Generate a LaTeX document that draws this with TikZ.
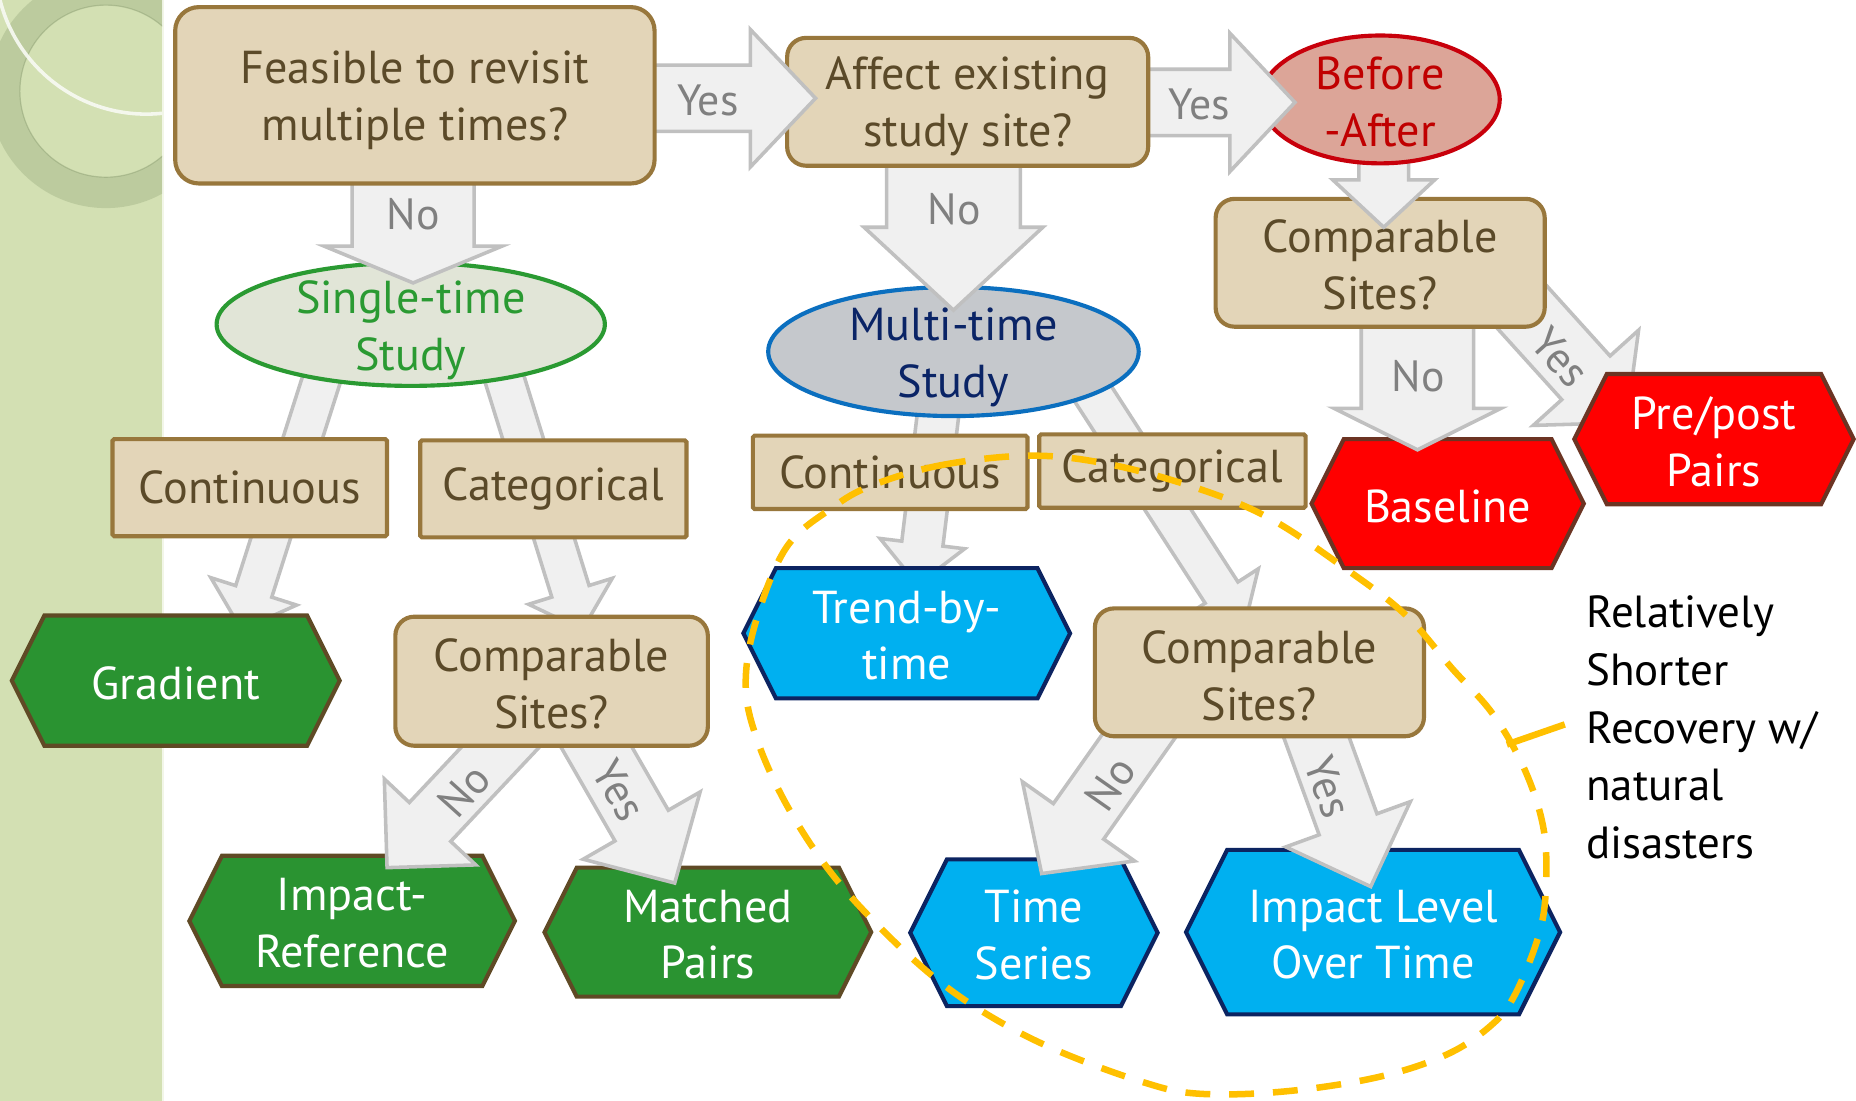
\documentclass[tikz,border=0pt]{standalone}
\usepackage{fontspec}
\setmainfont{PT Sans}
\usetikzlibrary{calc,shapes.geometric}
\definecolor{tanfill}{HTML}{E3D5B8}
\definecolor{tanline}{HTML}{98773C}
\definecolor{tantext}{HTML}{5B4A29}
\definecolor{arrfill}{HTML}{F0F0F0}
\definecolor{arrline}{HTML}{C0C0C0}
\definecolor{lblgray}{HTML}{808080}
\definecolor{singlefill}{HTML}{E1E5D7}
\definecolor{singleline}{HTML}{2A9A32}
\definecolor{multifill}{HTML}{C5C8CC}
\definecolor{multiline}{HTML}{0B6FBF}
\definecolor{multitext}{HTML}{0A2466}
\definecolor{beforefill}{HTML}{DCA598}
\definecolor{beforeline}{HTML}{C8000B}
\definecolor{beforetext}{HTML}{C00000}
\definecolor{greenhex}{HTML}{2A9331}
\definecolor{greenhexline}{HTML}{5F4A25}
\definecolor{redhex}{HTML}{FF0000}
\definecolor{redhexline}{HTML}{6C3423}
\definecolor{bluehex}{HTML}{00B0F0}
\definecolor{bluehexline}{HTML}{0C2461}
\definecolor{dashcol}{HTML}{FFC000}
\definecolor{stripcol}{HTML}{D3E0B3}
\definecolor{ringcol}{HTML}{8A9C70}

\newcommand\barrow[5]{%
  \coordinate (bneck) at ($(#2)!#5pt!(#1)$);
  \draw[blockarrow] ($(#1)!#3pt!90:(#2)$) -- ($(bneck)!#3pt!90:(#2)$) -- ($(bneck)!#4pt!90:(#2)$) -- (#2) -- ($(bneck)!#4pt!-90:(#2)$) -- ($(bneck)!#3pt!-90:(#2)$) -- ($(#1)!#3pt!-90:(#2)$) -- cycle;}

\newcommand\hexa[7]{%
  \draw[#6] ({#2-#4},{#3}) -- ({#2-#4+0.5*#5},{#3-#5}) -- ({#2+#4-0.5*#5},{#3-#5}) -- ({#2+#4},{#3}) -- ({#2+#4-0.5*#5},{#3+#5}) -- ({#2-#4+0.5*#5},{#3+#5}) -- cycle;
  \node[hextext] (#1) at (#2,{#3+2}) {#7};}

\tikzset{
  blockarrow/.style={draw=arrline, fill=arrfill, line width=3pt, line join=miter},
  tanbox/.style={draw=tanline, fill=tanfill, line width=3.5pt, text=tantext, font=\fontsize{39}{47}\selectfont, align=center, inner sep=0pt, rounded corners=16pt},
  tanrect/.style={tanbox, rounded corners=1.5pt},
  boxtext/.style={text=tantext, font=\fontsize{39}{48}\selectfont, align=center, inner sep=0pt},
  hextext/.style={text=white, font=\fontsize{39}{48}\selectfont, align=center, inner sep=0pt},
  greenh/.style={fill=greenhex, draw=greenhexline, line width=3.5pt, line join=miter},
  redh/.style={fill=redhex, draw=redhexline, line width=3.5pt, line join=miter},
  blueh/.style={fill=bluehex, draw=bluehexline, line width=3.5pt, line join=miter},
  lbl/.style={text=lblgray, font=\fontsize{37}{44}\selectfont, inner sep=0pt},
  ovaltext/.style={font=\fontsize{39}{48}\selectfont, align=center, inner sep=0pt}
}

\begin{document}
\begin{tikzpicture}[x=1pt,y=-1pt]
\useasboundingbox (0,0) rectangle (1568,930);
\fill[white] (0,0) rectangle (1568,930);
% left strip
\fill[stripcol] (0,0) rectangle (137,930);
\draw[white!70!stripcol, line width=1.5pt] (137.5,0) -- (137.5,930);
\begin{scope}
  \clip (0,0) rectangle (137,930);
  \fill[ringcol, opacity=0.3, even odd rule] (89.5,77) circle (98.8) (89.5,77) circle (72.7);
  \draw[ringcol, opacity=0.45, line width=1pt] (89.5,77) circle (72.7);
  \draw[white!85!stripcol, line width=3pt, opacity=0.9] (123.6,-31) circle (127.4);
\end{scope}

% coordinates for connectors
\coordinate (a1s) at (349,140);   \coordinate (a1e) at (349,239);
\coordinate (a2s) at (540,83);    \coordinate (a2e) at (689,83);
\coordinate (a3s) at (955,86.5);  \coordinate (a3e) at (1094,86.5);
\coordinate (a4s) at (805.5,125); \coordinate (a4e) at (805.5,262);
\coordinate (a5s) at (1169,120);  \coordinate (a5e) at (1169,192);
\coordinate (a6s) at (1197.5,260);\coordinate (a6e) at (1197.5,380);
\coordinate (a7s) at (1280,253);  \coordinate (a7e) at (1374,357);
\coordinate (a8s) at (274,313);   \coordinate (a8e) at (204,532);
\coordinate (a9s) at (424,313);   \coordinate (a9e) at (492,532);
\coordinate (a10s) at (793,346);  \coordinate (a10e) at (775,494);
\coordinate (a11s) at (921,329);  \coordinate (a11e) at (1051,530);
\coordinate (a12s) at (452,600);  \coordinate (a12e) at (327,733);
\coordinate (a13s) at (486,600);  \coordinate (a13e) at (570,746);
\coordinate (a14s) at (981,595);  \coordinate (a14e) at (880,738);
\coordinate (a15s) at (1102,595); \coordinate (a15e) at (1158,749);

% arrows lying under the nodes
\barrow{a8s}{a8e}{16}{38}{34}
\barrow{a9s}{a9e}{16.5}{37}{34}
\barrow{a10s}{a10e}{17.5}{36}{35}
\barrow{a11s}{a11e}{16.5}{37}{35}
\barrow{a7s}{a7e}{27.5}{60}{51}

% hexagons
\hexa{gradient}{148.5}{575}{138.5}{55}{greenh}{Gradient}
\hexa{trend}{766}{535}{138}{55}{blueh}{Trend-by-\\time}
\hexa{baseline}{1223}{425.5}{115}{54.5}{redh}{Baseline}
\hexa{prepost}{1448}{371}{118}{55}{redh}{Pre/post\\Pairs}
\hexa{impref}{297.5}{778}{137.5}{55}{greenh}{Impact-\\Reference}
\hexa{matched}{598}{787.5}{138}{54.5}{greenh}{Matched\\Pairs}
\hexa{timeser}{873.5}{788}{104.5}{62}{blueh}{Time\\Series}
\hexa{implevel}{1160}{787.5}{158}{69.5}{blueh}{Impact Level\\Over Time}

% ovals
\node[ellipse, draw=singleline, fill=singlefill, line width=3.5pt, minimum width=328pt, minimum height=104pt, inner sep=0pt] (single) at (347,274) {};
\node[ovaltext, text=singleline] (singleT) at (347,279) {Single-time\\Study};
\node[ellipse, draw=multiline, fill=multifill, line width=3.5pt, minimum width=313pt, minimum height=109pt, inner sep=0pt] (multi) at (805.5,297) {};
\node[ovaltext, text=multitext] (multiT) at (805.5,302) {Multi-time\\Study};

% small rectangles
\node[tanrect, minimum width=232pt, minimum height=82pt] (contL) at (211,412) {Continuous};
\node[tanrect, minimum width=225pt, minimum height=82pt] (catL) at (467.5,413) {Categorical};
\node[tanrect, minimum width=232pt, minimum height=62pt] (contM) at (752,399) {Continuous};
\node[tanrect, minimum width=225pt, minimum height=62pt] (catM) at (990.5,398) {Categorical};

% lower decision arrows and boxes
\barrow{a12s}{a12e}{24}{53}{53}
\barrow{a13s}{a13e}{26}{57}{56}
\barrow{a14s}{a14e}{26}{58}{54}
\barrow{a15s}{a15e}{26}{56}{56}
\node[tanbox, minimum width=264pt, minimum height=109pt] (compL) at (466,575.5) {};
\node[boxtext] (compLT) at (466,578) {Comparable\\Sites?};
\node[tanbox, minimum width=278pt, minimum height=108pt] (compM) at (1064,568) {};
\node[boxtext] (compMT) at (1064,571) {Comparable\\Sites?};

% upper chain
\barrow{a6s}{a6e}{47.5}{70.5}{35}
\node[tanbox, minimum width=278pt, minimum height=108pt] (compR) at (1166,222) {};
\node[boxtext] (compRT) at (1166,224) {Comparable\\Sites?};
\barrow{a5s}{a5e}{21}{43}{40}
\node[ellipse, draw=beforeline, fill=beforefill, line width=3.5pt, minimum width=202pt, minimum height=108pt, inner sep=0pt] (before) at (1166,84) {};
\node[ovaltext, text=beforetext] (beforeT) at (1166,86) {Before\\-After};
\barrow{a3s}{a3e}{28}{58.5}{55}
\barrow{a4s}{a4e}{56.5}{75.5}{70}
\node[tanbox, minimum width=305pt, minimum height=108pt] (affect) at (817.5,86) {};
\node[boxtext] (affectT) at (817.5,90) {Affect existing\\study site?};
\barrow{a2s}{a2e}{28}{58}{55}
\barrow{a1s}{a1e}{51.5}{75}{31}
\node[tanbox, minimum width=405pt, minimum height=149pt, rounded corners=20pt] (feas) at (350.5,80.5) {};
\node[boxtext] (feasT) at (350.5,84.5) {Feasible to revisit\\multiple times?};

% arrow labels
\node[lbl] (l1) at (349,181) {No};
\node[lbl] (l2) at (598,85) {Yes};
\node[lbl] (l3) at (1013,88) {Yes};
\node[lbl] (l4) at (806,177) {No};
\node[lbl] (l6) at (1198,318) {No};
\node[lbl, rotate=-48] (l7) at (1318,302) {Yes};
\node[lbl, rotate=48] (l12) at (392,668) {No};
\node[lbl, rotate=-60] (l13) at (523,668) {Yes};
\node[lbl, rotate=55] (l14) at (938,662) {No};
\node[lbl, rotate=-70] (l15) at (1122,665) {Yes};

% dashed grouping
\draw[dashcol, line width=5.5pt, dash pattern=on 21pt off 16pt] plot[smooth cycle, tension=0.6] coordinates {(737,410) (795,393) (868,385) (931,391) (1004,410) (1071,437) (1139,482) (1188,520) (1227,565) (1261,603) (1288,650) (1304,700) (1306,750) (1300,790) (1280,840) (1260,866) (1222,891) (1164,910) (1086,922) (1013,924) (965,914) (892,887) (834,857) (786,823) (737,777) (698,732) (664,679) (640,626) (630,580) (638,527) (664,463) (703,429)};
\coordinate (calloutA) at (1273,629);
\node[anchor=west, align=left, inner sep=0pt, font=\fontsize{38}{48.7}\selectfont] (note) at (1340,614.5) {Relatively\\Shorter\\Recovery w/\\natural\\disasters};
\draw[dashcol, line width=5.5pt] (calloutA) -- (1322,612);
\end{tikzpicture}
\end{document}
